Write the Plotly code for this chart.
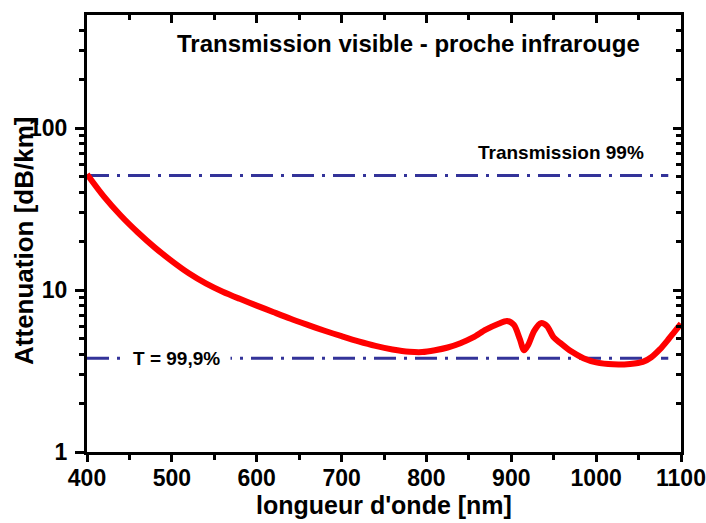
import plotly.graph_objects as go
import numpy as np

# Attenuation curve (wavelength nm -> dB/km)
wavelength = [400, 420, 440, 460, 480, 500, 520, 540, 560, 580, 600, 620, 640, 660, 680,
              700, 720, 740, 760, 780, 795, 810, 825, 840, 855, 870, 885, 895, 903,
              910, 915, 920, 927, 935, 942, 950, 958, 970, 985, 1000, 1020, 1040, 1055,
              1065, 1075, 1085, 1092, 1100]
attenuation = [52, 37.8, 28.8, 22.7, 18.3, 15.1, 12.7, 11.0, 9.77, 8.83, 8.02, 7.30, 6.65, 6.10, 5.61,
               5.19, 4.82, 4.52, 4.30, 4.16, 4.14, 4.25, 4.42, 4.7, 5.1, 5.7, 6.2, 6.45, 6.1,
               5.0, 4.25, 4.6, 5.6, 6.25, 6.0, 5.1, 4.7, 4.2, 3.8, 3.58, 3.48, 3.5, 3.6,
               3.85, 4.3, 4.95, 5.5, 6.2]

# reference levels
ref_x = [400, 1085]
level_99 = 51
level_999 = 3.8

x_ticks = [400, 500, 600, 700, 800, 900, 1000, 1100]
y_ticks = [1, 10, 100]
y_minor = [2, 3, 4, 5, 6, 7, 8, 9, 20, 30, 40, 50, 60, 70, 80, 90, 200, 300, 400]

FONT = "Liberation Sans, Arial, sans-serif"
BLUE = "#333399"
DASH = "22px,8px,3px,8px"

fig = go.Figure()
fig.add_trace(go.Scatter(x=ref_x, y=[level_99, level_99], mode="lines",
                         line=dict(color=BLUE, width=3, dash=DASH), showlegend=False, hoverinfo="skip"))
fig.add_trace(go.Scatter(x=ref_x, y=[level_999, level_999], mode="lines",
                         line=dict(color=BLUE, width=3, dash=DASH), showlegend=False, hoverinfo="skip"))
fig.add_trace(go.Scatter(x=wavelength, y=attenuation, mode="lines",
                         line=dict(color="#ff0000", width=6, shape="spline", smoothing=0.8),
                         showlegend=False))
# invisible trace for mirrored axes
fig.add_trace(go.Scatter(x=[400, 1100], y=[1, 500], xaxis="x2", yaxis="y2", mode="lines",
                         line=dict(width=0), showlegend=False, hoverinfo="skip", opacity=0))

yr = [0, np.log10(500)]
common = dict(showline=True, linecolor="black", linewidth=3, showgrid=False, zeroline=False,
              tickcolor="black", tickwidth=2.5, automargin=False)

fig.update_layout(
    width=706, height=523,
    margin=dict(l=87, r=25, t=15, b=71),
    paper_bgcolor="white", plot_bgcolor="white",
    font=dict(family=FONT, color="black", size=23, weight="bold"),
    xaxis=dict(range=[400, 1100], tickvals=x_ticks, ticks="outside", ticklen=7,
               ticklabelstandoff=-4, ticklabeloverflow="allow",
               minor=dict(dtick=50, tick0=400, ticks="outside", ticklen=5, tickcolor="black", tickwidth=2.5),
               tickfont=dict(size=23, weight="bold"), **common),
    xaxis2=dict(range=[400, 1100], overlaying="x", side="top", anchor="y", tickvals=x_ticks,
                ticks="inside", ticklen=8, showticklabels=False,
                minor=dict(dtick=50, tick0=400, ticks="inside", ticklen=5, tickcolor="black", tickwidth=2.5),
                **common),
    yaxis=dict(type="log", range=yr, tickvals=y_ticks, ticktext=["1", "10", "100"],
               ticks="outside", ticklen=9, ticklabelstandoff=3, ticklabeloverflow="allow",
               minor=dict(tickvals=y_minor, ticks="outside", ticklen=5, tickcolor="black", tickwidth=2.5),
               tickfont=dict(size=23, weight="bold"), **common),
    yaxis2=dict(type="log", range=yr, overlaying="y", side="right", anchor="x", tickvals=y_ticks,
                ticks="inside", ticklen=8, showticklabels=False,
                minor=dict(tickvals=y_minor, ticks="inside", ticklen=5, tickcolor="black", tickwidth=2.5),
                **common),
    annotations=[
        dict(text="Transmission visible - proche infrarouge", x=0.542, y=0.934, xref="paper", yref="paper",
             xanchor="center", yanchor="middle", showarrow=False, font=dict(size=24, weight="bold")),
        dict(text="Transmission 99%", x=0.798, y=0.686, xref="paper", yref="paper",
             xanchor="center", yanchor="middle", showarrow=False, font=dict(size=19, weight="bold")),
        dict(text="T = 99,9%", x=0.151, y=0.215, xref="paper", yref="paper",
             xanchor="center", yanchor="middle", showarrow=False, font=dict(size=19, weight="bold"),
             bgcolor="white", borderpad=10),
        dict(text="longueur d'onde [nm]", x=0.5, y=-0.121, xref="paper", yref="paper",
             xanchor="center", yanchor="middle", showarrow=False, font=dict(size=25, weight="bold")),
        dict(text="Attenuation [dB/km]", x=-0.106, y=0.483, xref="paper", yref="paper", textangle=-90,
             xanchor="center", yanchor="middle", showarrow=False, font=dict(size=26, weight="bold")),
    ],
)

fig.write_html("out.html", config={"displayModeBar": False},
               post_script="document.body.style.margin='0';document.body.style.overflow='hidden';")
